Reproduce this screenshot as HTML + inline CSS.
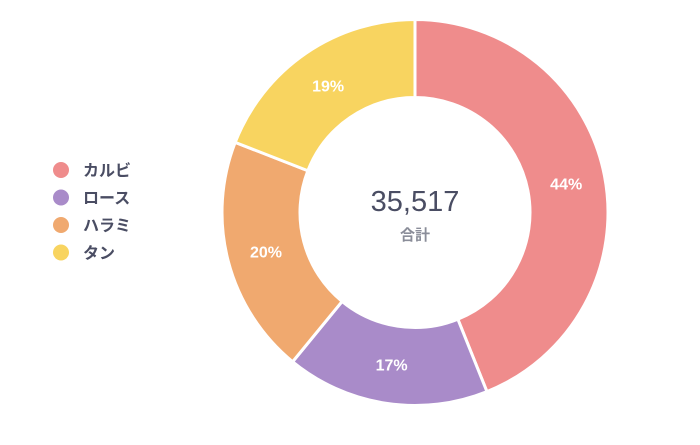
<!DOCTYPE html>
<html><head><meta charset="utf-8"><style>
body{margin:0;background:#fff;font-family:"Liberation Sans","Noto Sans CJK JP",sans-serif}
</style></head><body>
<svg id="c" width="700" height="440" xmlns="http://www.w3.org/2000/svg"></svg>
<script>
const categories=["カルビ","ロース","ハラミ","タン"];
const values=[15600,6040,7100,6777];
const colors=["#ef8c8c","#a98bc9","#f0a96f","#f8d460"];
const svg=document.getElementById('c');
const NS="http://www.w3.org/2000/svg";
const cx=415,cy=212.5,R=193,r=115;
const total=values.reduce((a,b)=>a+b,0);
function pt(a,rad){return [cx+rad*Math.sin(a),cy-rad*Math.cos(a)];}
let a0=0;
values.forEach((v,i)=>{
  const a1=a0+v/total*2*Math.PI;
  const [x0,y0]=pt(a0,R),[x1,y1]=pt(a1,R),[x2,y2]=pt(a1,r),[x3,y3]=pt(a0,r);
  const lg=(a1-a0)>Math.PI?1:0;
  const p=document.createElementNS(NS,'path');
  p.setAttribute('d',`M${x0},${y0}A${R},${R} 0 ${lg} 1 ${x1},${y1}L${x2},${y2}A${r},${r} 0 ${lg} 0 ${x3},${y3}Z`);
  p.setAttribute('fill',colors[i]);p.setAttribute('stroke','#fff');p.setAttribute('stroke-width','3');
  
  
  svg.appendChild(p);
  const m=(a0+a1)/2,[lx,ly]=pt(m,(R+r)/2);
  const t=document.createElementNS(NS,'text');
  t.setAttribute('x',lx);t.setAttribute('y',ly+6);t.setAttribute('text-anchor','middle');
  t.setAttribute('fill','#fff');t.setAttribute('font-size','16');t.setAttribute('font-weight','bold');
  t.textContent=Math.round(v/total*100)+'%';
  
  
  svg.appendChild(t);
  a0=a1;
});
const tt=document.createElementNS(NS,'text');
tt.setAttribute('x',cx);tt.setAttribute('y',211);tt.setAttribute('text-anchor','middle');
tt.setAttribute('fill','#4a4d63');tt.setAttribute('font-size','29');
tt.textContent=total.toLocaleString('en-US');


svg.appendChild(tt);
const tl=document.createElementNS(NS,'text');
tl.setAttribute('x',cx);tl.setAttribute('y',240);tl.setAttribute('text-anchor','middle');
tl.setAttribute('fill','#8a8d99');tl.setAttribute('font-size','15');tl.setAttribute('font-weight','bold');
tl.textContent='合計';


svg.appendChild(tl);
categories.forEach((c,i)=>{
  const y=170+i*27.5;
  const d=document.createElementNS(NS,'circle');
  d.setAttribute('cx',61);d.setAttribute('cy',y);d.setAttribute('r',8);d.setAttribute('fill',colors[i]);
  
  
  svg.appendChild(d);
  const t=document.createElementNS(NS,'text');
  t.setAttribute('x',83);t.setAttribute('y',y+6);t.setAttribute('fill','#4a4d63');
  t.setAttribute('font-size','16');t.setAttribute('font-weight','bold');
  t.textContent=c;
  
  
  svg.appendChild(t);
});
</script>
</body></html>
